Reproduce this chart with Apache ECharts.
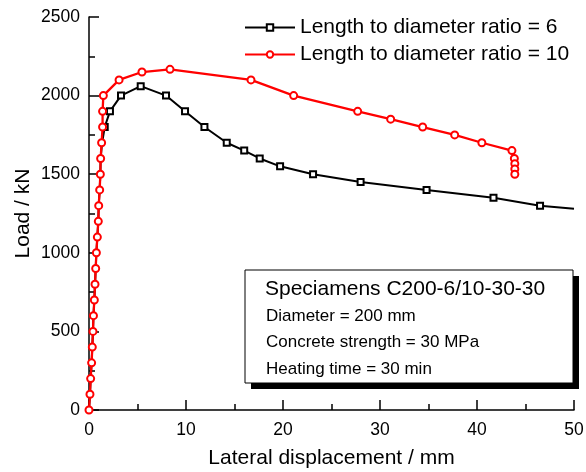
<!DOCTYPE html>
<html><head><meta charset="utf-8">
<script src="https://cdn.jsdelivr.net/npm/echarts@6/dist/echarts.min.js"></script>
<style>html,body{margin:0;padding:0;background:#fff}#c{width:586px;height:472px}</style>
</head><body><div id="c"></div>
<script>
var FONT = '"Liberation Sans", Arial, sans-serif';

var seriesNames = ['Length to diameter ratio = 6', 'Length to diameter ratio = 10'];

var ratio6Disp = [0, 0.1, 0.17, 0.27, 0.34, 0.41, 0.46, 0.55, 0.62, 0.69, 0.76, 0.86, 0.96, 1.0, 1.1, 1.17, 1.2, 1.35, 1.62, 2.16, 3.3, 5.33, 7.94, 9.9, 11.9, 14.2, 16.0, 17.6, 19.7, 23.1, 28.0, 34.8, 41.7, 46.5, 50];
var ratio6Load = [0, 100, 200, 300, 400, 500, 600, 700, 800, 900, 1000, 1100, 1200, 1300, 1400, 1500, 1600, 1700, 1800, 1900, 2000, 2060, 2000, 1900, 1800, 1700, 1650, 1600, 1550, 1500, 1450, 1400, 1350, 1300, 1280];

var ratio10Disp = [0, 0.1, 0.17, 0.27, 0.34, 0.41, 0.46, 0.55, 0.62, 0.69, 0.76, 0.86, 0.96, 1.0, 1.1, 1.17, 1.2, 1.3, 1.4, 1.4, 1.48, 3.1, 5.46, 8.35, 16.7, 21.1, 27.7, 31.1, 34.4, 37.7, 40.5, 43.6, 43.85, 43.9, 43.9, 43.9];
var ratio10Load = [0, 100, 200, 300, 400, 500, 600, 700, 800, 900, 1000, 1100, 1200, 1300, 1400, 1500, 1600, 1700, 1800, 1900, 2000, 2100, 2150, 2167, 2100, 2000, 1900, 1850, 1800, 1750, 1700, 1650, 1600, 1567, 1533, 1500];

var xTickValues = [0, 10, 20, 30, 40, 50];
var yTickValues = [0, 500, 1000, 1500, 2000, 2500];

var boxTitle = 'Speciamens C200-6/10-30-30';
var boxLines = ['Diameter = 200 mm', 'Concrete strength = 30 MPa', 'Heating time = 30 min'];

function pairs(xs, ys) {
  return xs.map(function (x, i) { return [x, ys[i]]; });
}
// markers of ratio 6 that lie under the red curve are hidden in the figure
var d6 = pairs(ratio6Disp, ratio6Load).map(function (p, i) {
  var hidden = (p[1] <= 1700 && p[0] < 2) || i === ratio6Disp.length - 1;
  return hidden ? { value: p, symbol: 'none' } : p;
});
var d10 = pairs(ratio10Disp, ratio10Load);

function axisCommon() {
  return {
    type: 'value',
    splitLine: { show: false },
    axisLine: { show: true, onZero: false, lineStyle: { color: '#000', width: 1.5 } },
    axisTick: { show: true, inside: true, length: 10, lineStyle: { color: '#000', width: 1.5 } },
    minorTick: { show: true, splitNumber: 2, length: 6, lineStyle: { color: '#000', width: 1.5 } },
    nameLocation: 'middle',
    nameMoveOverlap: false,
    nameTextStyle: { color: '#000', fontSize: 21, fontFamily: FONT }
  };
}
var xAxis = axisCommon();
Object.assign(xAxis, {
  min: xTickValues[0], max: xTickValues[xTickValues.length - 1], interval: xTickValues[1] - xTickValues[0],
  name: 'Lateral displacement / mm', nameGap: 38,
  axisLabel: { color: '#000', fontSize: 17.5, margin: 11, fontFamily: FONT, formatter: function (v) { return String(v); } }
});
var yAxis = axisCommon();
Object.assign(yAxis, {
  min: yTickValues[0], max: yTickValues[yTickValues.length - 1], interval: yTickValues[1] - yTickValues[0],
  name: 'Load / kN', nameGap: 55,
  axisLabel: { color: '#000', fontSize: 17.5, margin: 9, fontFamily: FONT, formatter: function (v) { return String(v); } }
});

var boxX = 245, boxY = 270, boxW = 328, boxH = 113;
var graphics = [
  { type: 'rect', z: 100, shape: { x: boxX + 6, y: boxY + 6, width: boxW, height: boxH }, style: { fill: '#000' } },
  { type: 'rect', z: 101, shape: { x: boxX, y: boxY, width: boxW, height: boxH }, style: { fill: '#fff', stroke: '#000', lineWidth: 1 } },
  { type: 'text', z: 102, x: 265, y: 289.5, style: { text: boxTitle, fill: '#000', fontSize: 21, fontFamily: FONT, verticalAlign: 'middle' } }
];
boxLines.forEach(function (t, i) {
  graphics.push({ type: 'text', z: 102, x: 266, y: 316 + i * 26.7, style: { text: t, fill: '#000', fontSize: 17, fontFamily: FONT, verticalAlign: 'middle' } });
});

var chart = echarts.init(document.getElementById('c'), null, { renderer: 'canvas' });
chart.setOption({
  animation: false,
  backgroundColor: '#fff',
  textStyle: { fontFamily: FONT },
  grid: { left: 89, right: 12, top: 17, bottom: 62, containLabel: false, outerBoundsMode: 'none' },
  legend: {
    orient: 'vertical', left: 244, top: 17, padding: 0, itemWidth: 50, itemHeight: 8, itemGap: 6,
    textStyle: { fontSize: 21, color: '#000', fontFamily: FONT, padding: [3, 0, 0, 0] },
    data: seriesNames
  },
  xAxis: xAxis,
  yAxis: yAxis,
  graphic: graphics,
  series: [
    {
      name: seriesNames[0], type: 'line', data: d6, symbol: 'emptyRect', symbolSize: 6, showAllSymbol: true,
      lineStyle: { color: '#000', width: 2 }, itemStyle: { color: '#000', borderWidth: 1.2 }, z: 2
    },
    {
      name: seriesNames[1], type: 'line', data: d10, symbol: 'emptyCircle', symbolSize: 7, showAllSymbol: true,
      lineStyle: { color: '#ff0000', width: 2.3 }, itemStyle: { color: '#ff0000', borderWidth: 1.2 }, z: 3
    }
  ]
});
</script></body></html>
